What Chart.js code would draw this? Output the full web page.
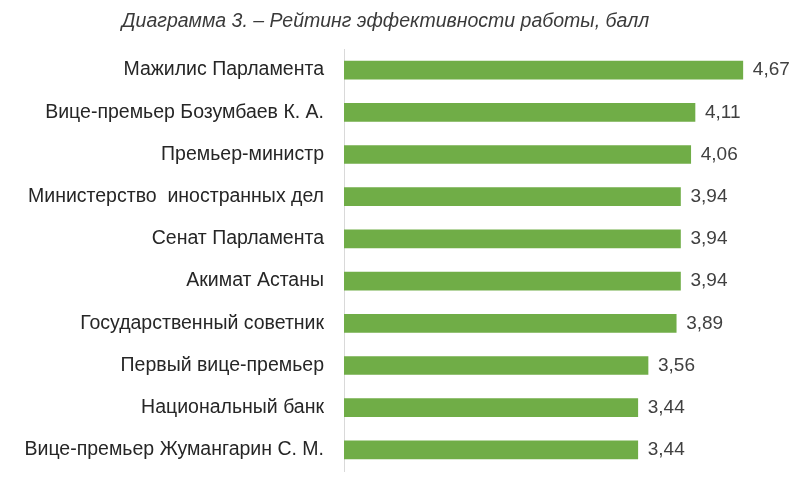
<!DOCTYPE html>
<html>
<head>
<meta charset="utf-8">
<script src="https://cdn.jsdelivr.net/npm/chart.js@4.4.0/dist/chart.umd.min.js"></script>
<style>
  html, body { margin: 0; padding: 0; background: #fff; }
  #wrap { width: 796px; height: 477px; }
</style>
</head>
<body>
<div id="wrap"><canvas id="ratingChart"></canvas></div>
<script>
const categories = [
  'Мажилис Парламента',
  'Вице-премьер Бозумбаев К. А.',
  'Премьер-министр',
  'Министерство  иностранных дел',
  'Сенат Парламента',
  'Акимат Астаны',
  'Государственный советник',
  'Первый вице-премьер',
  'Национальный банк',
  'Вице-премьер Жумангарин С. М.'
];
const scores = [4.67, 4.11, 4.06, 3.94, 3.94, 3.94, 3.89, 3.56, 3.44, 3.44];

// value labels next to each bar, comma decimals
const valueLabels = {
  id: 'valueLabels',
  afterDatasetsDraw(chart) {
    const ctx = chart.ctx;
    const meta = chart.getDatasetMeta(0);
    ctx.save();
    ctx.font = '19px "Liberation Sans", Arial, sans-serif';
    ctx.fillStyle = '#404040';
    ctx.textAlign = 'left';
    ctx.textBaseline = 'middle';
    meta.data.forEach(function(bar, i) {
      const txt = scores[i].toFixed(2).replace('.', ',');
      ctx.fillText(txt, bar.x + 10, bar.y);
    });
    ctx.restore();
  }
};

document.addEventListener('DOMContentLoaded', function() {
  const ctx = document.getElementById('ratingChart').getContext('2d');

  new Chart(ctx, {
    type: 'bar',
    data: {
      labels: categories,
      datasets: [{
        data: scores,
        backgroundColor: '#70ad47',
        barThickness: 18,
      }],
    },
    options: {
      indexAxis: 'y',
      responsive: true,
      maintainAspectRatio: false,
      animation: false,
      layout: {
        padding: { top: 0, right: 25, bottom: 6, left: 0 },
      },
      scales: {
        x: {
          display: false,
          min: 0,
          max: 5,
        },
        y: {
          grid: { display: false, drawTicks: false },
          border: { display: true, color: '#d9d9d9', width: 1 },
          ticks: {
            color: '#262626',
            padding: 20,
            font: { family: '"Liberation Sans", Arial, sans-serif', size: 19.5 },
          },
          afterFit: function(scale) {
            scale.width = 344;
            scale.paddingTop = 0;
            scale.paddingBottom = 0;
          },
        },
      },
      plugins: {
        legend: { display: false },
        tooltip: { enabled: false },
        title: {
          display: true,
          text: 'Диаграмма 3. – Рейтинг эффективности работы, балл',
          color: '#3a3a3a',
          font: { family: '"Liberation Sans", Arial, sans-serif', size: 19.5, style: 'italic', weight: 'normal' },
          padding: { top: 10, bottom: 15.6 },
        },
      },
    },
    plugins: [valueLabels],
  });
});
</script>
</body>
</html>
